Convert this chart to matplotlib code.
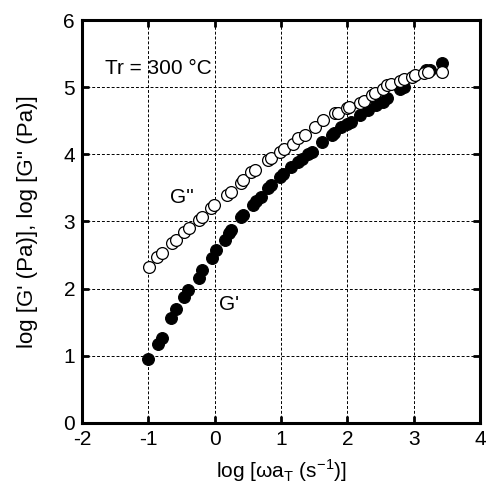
import matplotlib.pyplot as plt

plt.rcParams['font.family'] = ['Liberation Sans', 'DejaVu Sans']
plt.rcParams['axes.unicode_minus'] = False

# G' (storage modulus), filled circles
gp_x = [-1.00, -0.85, -0.80, -0.66, -0.58, -0.46, -0.40, -0.24, -0.19, -0.04,
        0.02, 0.16, 0.21, 0.24, 0.40, 0.43, 0.58, 0.62, 0.69, 0.81,
        0.85, 0.99, 1.03, 1.15, 1.25, 1.31, 1.40, 1.46, 1.61, 1.76, 1.80,
        1.91, 2.00, 2.06, 2.19, 2.31, 2.43, 2.54, 2.60, 2.79, 2.85,
        3.18, 3.24, 3.43]
gp_y = [0.95, 1.18, 1.26, 1.56, 1.70, 1.88, 1.98, 2.16, 2.28, 2.46,
        2.58, 2.72, 2.83, 2.87, 3.07, 3.10, 3.24, 3.30, 3.36, 3.50,
        3.55, 3.66, 3.70, 3.81, 3.88, 3.93, 4.00, 4.04, 4.18, 4.29, 4.32,
        4.40, 4.45, 4.48, 4.58, 4.66, 4.73, 4.78, 4.84, 4.98, 5.00,
        5.25, 5.25, 5.36]

# G'' (loss modulus), open circles
gpp_x = [-0.99, -0.87, -0.79, -0.64, -0.58, -0.46, -0.39, -0.24, -0.19, -0.06,
         -0.01, 0.18, 0.24, 0.39, 0.43, 0.55, 0.60, 0.81, 0.85, 0.99,
         1.04, 1.18, 1.25, 1.36, 1.51, 1.63, 1.81, 1.85, 2.00,
         2.02, 2.19, 2.25, 2.37, 2.42, 2.54, 2.60, 2.65, 2.79, 2.85, 2.97,
         3.02, 3.15, 3.22, 3.43]
gpp_y = [2.32, 2.47, 2.53, 2.68, 2.72, 2.84, 2.90, 3.02, 3.07, 3.20,
         3.24, 3.39, 3.44, 3.57, 3.62, 3.73, 3.76, 3.91, 3.94, 4.03,
         4.08, 4.16, 4.24, 4.29, 4.40, 4.51, 4.61, 4.62, 4.69,
         4.70, 4.76, 4.80, 4.88, 4.91, 4.98, 5.03, 5.05, 5.10, 5.12, 5.15,
         5.18, 5.21, 5.22, 5.22]

fig = plt.figure(figsize=(4.88, 4.90), dpi=100)
ax = fig.add_axes([0.168, 0.137, 0.816, 0.822])

ax.plot(gp_x, gp_y, 'o', color='black', markersize=8.5, markeredgewidth=0.8, zorder=3)
ax.plot(gpp_x, gpp_y, 'o', markerfacecolor='white', markeredgecolor='black',
        markersize=8.5, markeredgewidth=0.9, zorder=4)

ax.set_xlim(-2, 4)
ax.set_ylim(0, 6)
ax.set_xticks(range(-2, 5))
ax.set_yticks(range(0, 7))
ax.grid(True, color='black', linestyle=(0, (3, 2)), linewidth=0.7)
ax.set_axisbelow(True)

for s in ax.spines.values():
    s.set_linewidth(2.2)
ax.tick_params(direction='in', length=5, width=2, top=True, right=True,
               labelsize=15, pad=5)

ax.text(-1.66, 5.28, 'Tr = 300 °C', fontsize=15, va='center', ha='left')
ax.text(-0.49, 3.36, "G''", fontsize=15, va='center', ha='center')
ax.text(0.22, 1.76, "G'", fontsize=15, va='center', ha='center')

ax.set_xlabel('log [ωa$_\\mathregular{T}$ (s$^\\mathregular{-1}$)]', fontsize=15, labelpad=6)
ax.set_ylabel("log [G' (Pa)], log [G'' (Pa)]", fontsize=16, labelpad=18)

fig.savefig('out.png', dpi=100)
